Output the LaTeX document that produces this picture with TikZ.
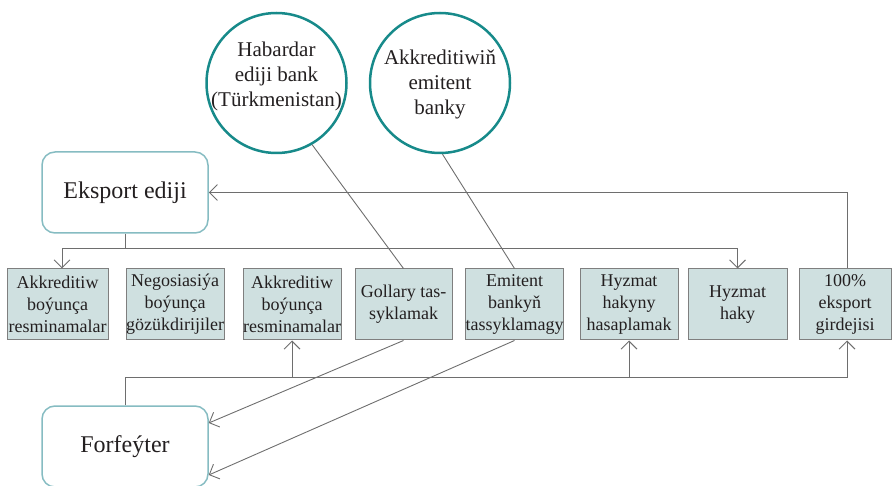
\documentclass[tikz,border=0pt]{standalone}
\usepackage{fontspec}
\setmainfont{Liberation Serif}
\usetikzlibrary{arrows.meta}
\definecolor{boxfill}{HTML}{CFE0E0}
\definecolor{boxline}{HTML}{7F7F7F}
\definecolor{conn}{HTML}{6E6E6E}
\definecolor{teal1}{HTML}{178A8A}
\definecolor{roundline}{HTML}{86BCC2}
\definecolor{txt}{HTML}{231F20}
\newcommand{\circtext}[2]{\raisebox{#1}[0pt][0pt]{\makebox[0pt]{\begin{tabular}{@{}c@{}}#2\end{tabular}}}}
\tikzset{
  smallbox/.style={draw=boxline, fill=boxfill, line width=1pt, inner sep=0pt,
    minimum height=71pt, align=center, text=txt,
    font=\fontsize{18}{22}\selectfont},
  roundbox/.style={draw=roundline, line width=1.5pt, rounded corners=13pt,
    minimum width=166pt, minimum height=81pt, inner sep=0pt, text=txt,
    font=\fontsize{24}{28}\selectfont},
  bankcircle/.style={draw=teal1, line width=2.5pt, circle, minimum size=140pt,
    inner sep=0pt, text=txt, font=\fontsize{21}{25}\selectfont},
  link/.style={draw=conn, line width=0.9pt},
  arr/.style={link, -{Straight Barb[length=8pt,width=16pt]}}
}
\begin{document}
\begin{tikzpicture}[x=1pt,y=-1pt]
\useasboundingbox (0,0) rectangle (892,486);
% circles
\node[bankcircle] (c1) at (276.5,83) {\circtext{1pt}{Habardar\\ediji bank\\(Türkmenistan)}};
\node[bankcircle] (c2) at (440,83) {\circtext{-7pt}{Akkreditiwiň\\emitent\\banky}};
% big rounded boxes
\node[roundbox] (eks) at (125,192.5) {Eksport ediji};
\node[roundbox] (ff) at (125,446.5) {Forfeýter};
% small boxes
\node[smallbox, minimum width=101pt] (b1) at (57.5,304.5) {Akkreditiw\\boýunça\\resminamalar};
\node[smallbox, minimum width=98pt] (b2) at (175,304.5) {Negosiasiýa\\boýunça\\gözükdirijiler};
\node[smallbox, minimum width=98pt] (b3) at (292,304.5) {Akkreditiw\\boýunça\\resminamalar};
\node[smallbox, minimum width=97pt] (b4) at (403.5,304.5) {Gollary tas-\\syklamak};
\node[smallbox, minimum width=97pt] (b5) at (514.5,304.5) {Emitent\\bankyň\\tassyklamagy};
\node[smallbox, minimum width=98pt] (b6) at (629,304.5) {Hyzmat\\hakyny\\hasaplamak};
\node[smallbox, minimum width=99pt] (b7) at (737.5,304.5) {Hyzmat\\haky};
\node[smallbox, minimum width=92pt] (b8) at (845,304.5) {100\%\\eksport\\girdejisi};
% top bus
\coordinate (bus1) at (125,248);
\draw[link] (eks.south) -- (bus1);
\draw[arr] (bus1) -| ([xshift=4.5pt]b1.north);
\draw[arr] (bus1) -| (b7.north);
\draw[arr] ([xshift=2pt]b8.north) |- (eks.east);
% bottom bus
\coordinate (bus2) at (125,377);
\draw[link] (ff.north) -- (bus2);
\draw[arr] (bus2) -| (b3.south);
\draw[arr] (bus2) -| (b6.south);
\draw[arr] (bus2) -| ([xshift=2pt]b8.south);
% diagonals
\draw[arr] (b4.south) -- ([yshift=23.5pt]ff.east);
\draw[arr] (b5.south) -- ([yshift=-28.5pt]ff.east);
\draw[link] (c1.-60) -- (b4.north);
\draw[link] (c2.-88) -- (b5.north);
\end{tikzpicture}
\end{document}
